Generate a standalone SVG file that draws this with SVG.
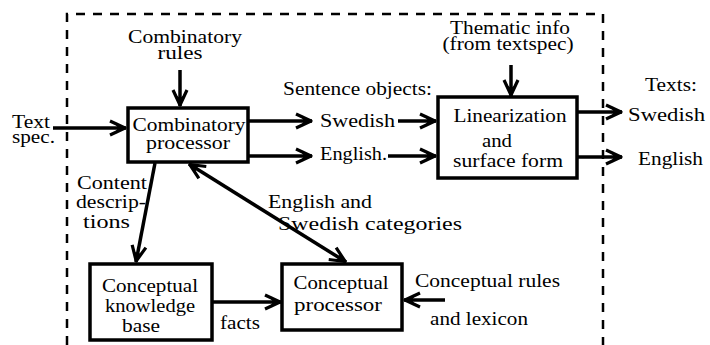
<svg xmlns="http://www.w3.org/2000/svg" width="710" height="345" viewBox="0 0 710 345">
<style>
text{font-family:'Liberation Serif','DejaVu Serif',serif;font-size:19px;fill:#000}
.c{text-anchor:middle}
.box{fill:#fff;stroke:#000;stroke-width:3.5}
.ln{stroke:#000;stroke-width:3.5;fill:none}
.dash{stroke:#000;stroke-width:2.5;fill:none;stroke-dasharray:9 8}
</style>
<defs>
<marker id="ah" markerUnits="userSpaceOnUse" viewBox="-19 -10 21 20" refX="0" refY="0" markerWidth="21" markerHeight="20" orient="auto-start-reverse">
<path d="M-16,-7 L-1,0 L-16,7" fill="none" stroke="#000" stroke-width="3.2" stroke-linejoin="round"/>
<path d="M0,0 L-11,-4.5 L-8,0 L-11,4.5 z" fill="#000"/>
</marker>
</defs>
<g id="boundary">
<path class="dash" d="M67,345 V14 H603 V345"/>
</g>
<g id="connectors">
<line class="ln" x1="53" y1="128" x2="126" y2="128" marker-end="url(#ah)"/>
<line class="ln" x1="180" y1="70" x2="180" y2="106" marker-end="url(#ah)"/>
<line class="ln" x1="248" y1="121" x2="312" y2="121" marker-end="url(#ah)"/>
<line class="ln" x1="248" y1="156" x2="312" y2="156" marker-end="url(#ah)"/>
<line class="ln" x1="398" y1="121" x2="436" y2="121" marker-end="url(#ah)"/>
<line class="ln" x1="388" y1="156" x2="436" y2="156" marker-end="url(#ah)"/>
<line class="ln" x1="511" y1="65" x2="511" y2="96" marker-end="url(#ah)"/>
<line class="ln" x1="577" y1="112" x2="622" y2="112" marker-end="url(#ah)"/>
<line class="ln" x1="577" y1="157" x2="622" y2="157" marker-end="url(#ah)"/>
<line class="ln" x1="155" y1="163" x2="136" y2="262" marker-end="url(#ah)"/>
<line class="ln" x1="189" y1="164" x2="346" y2="262" marker-start="url(#ah)" marker-end="url(#ah)"/>
<line class="ln" x1="212" y1="302" x2="281" y2="302" marker-end="url(#ah)"/>
<line class="ln" x1="445" y1="300" x2="404" y2="300" marker-end="url(#ah)"/>
</g>
<g id="combinatory-processor">
<rect class="box" x="128" y="108" width="120" height="54"/>
<text class="c" x="189" y="131" textLength="113" lengthAdjust="spacingAndGlyphs">Combinatory</text>
<text class="c" x="188" y="149" textLength="84" lengthAdjust="spacingAndGlyphs">processor</text>
</g>
<g id="linearization">
<rect class="box" x="438" y="97" width="139" height="81"/>
<text class="c" x="510" y="122" textLength="113" lengthAdjust="spacingAndGlyphs">Linearization</text>
<text class="c" x="497" y="147" textLength="30" lengthAdjust="spacingAndGlyphs">and</text>
<text class="c" x="508" y="167" textLength="110" lengthAdjust="spacingAndGlyphs">surface form</text>
</g>
<g id="knowledge-base">
<rect class="box" x="90" y="264" width="122" height="76"/>
<text class="c" x="150" y="292" textLength="96" lengthAdjust="spacingAndGlyphs">Conceptual</text>
<text class="c" x="150" y="312" textLength="90" lengthAdjust="spacingAndGlyphs">knowledge</text>
<text class="c" x="141" y="332" textLength="38" lengthAdjust="spacingAndGlyphs">base</text>
</g>
<g id="conceptual-processor">
<rect class="box" x="282" y="264" width="120" height="66"/>
<text class="c" x="341" y="289" textLength="95" lengthAdjust="spacingAndGlyphs">Conceptual</text>
<text class="c" x="338" y="311" textLength="88" lengthAdjust="spacingAndGlyphs">processor</text>
</g>
<g id="labels">
<text class="c" x="185" y="43" textLength="114" lengthAdjust="spacingAndGlyphs">Combinatory</text>
<text class="c" x="180" y="59" textLength="45" lengthAdjust="spacingAndGlyphs">rules</text>
<text x="12" y="128" textLength="38" lengthAdjust="spacingAndGlyphs">Text</text>
<text x="12" y="143" textLength="43" lengthAdjust="spacingAndGlyphs">spec.</text>
<text x="283" y="95" textLength="149" lengthAdjust="spacingAndGlyphs">Sentence objects:</text>
<text x="320" y="127" textLength="75" lengthAdjust="spacingAndGlyphs">Swedish</text>
<text x="320" y="160" textLength="67" lengthAdjust="spacingAndGlyphs">English.</text>
<text class="c" x="510" y="34" textLength="120" lengthAdjust="spacingAndGlyphs">Thematic info</text>
<text class="c" x="508" y="50" textLength="131" lengthAdjust="spacingAndGlyphs">(from textspec)</text>
<text x="645" y="91" textLength="52" lengthAdjust="spacingAndGlyphs">Texts:</text>
<text x="628" y="121" textLength="77" lengthAdjust="spacingAndGlyphs">Swedish</text>
<text x="638" y="165" textLength="65" lengthAdjust="spacingAndGlyphs">English</text>
<text x="77" y="189" textLength="70" lengthAdjust="spacingAndGlyphs">Content</text>
<text x="76" y="208" textLength="70" lengthAdjust="spacingAndGlyphs">descrip-</text>
<text x="83" y="228" textLength="47" lengthAdjust="spacingAndGlyphs">tions</text>
<text x="268" y="208" textLength="104" lengthAdjust="spacingAndGlyphs">English and</text>
<text x="278" y="230" textLength="184" lengthAdjust="spacingAndGlyphs">Swedish categories</text>
<text x="220" y="329" textLength="40" lengthAdjust="spacingAndGlyphs">facts</text>
<text x="415" y="287" textLength="145" lengthAdjust="spacingAndGlyphs">Conceptual rules</text>
<text x="430" y="325" textLength="98" lengthAdjust="spacingAndGlyphs">and lexicon</text>
</g>
</svg>
